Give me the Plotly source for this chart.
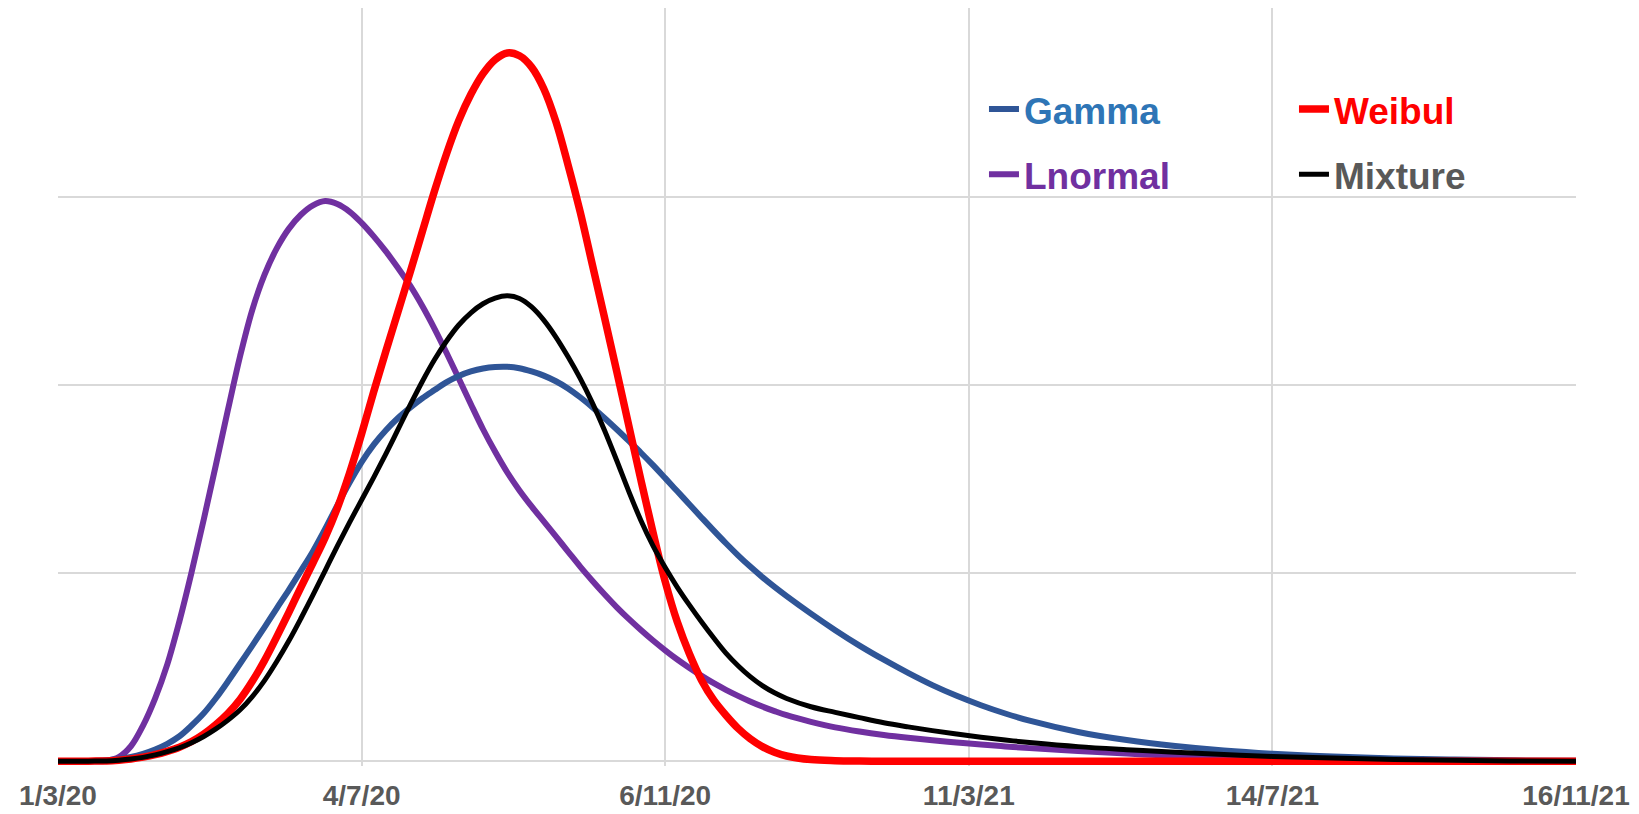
import plotly.graph_objects as go
import pandas as pd

start = pd.Timestamp("2020-03-01")
tick_dates = ["2020-03-01", "2020-07-04", "2020-11-06", "2021-03-11", "2021-07-14", "2021-11-16"]
tick_text = ["1/3/20", "4/7/20", "6/11/20", "11/3/21", "14/7/21", "16/11/21"]

# days after 1/3/20 (shared by all series)
days = list(range(0, 301, 5)) + list(range(310, 401, 10)) + [420, 440, 460, 480, 500, 525, 550, 575, 600, 625]

# density values (one grid step = 1)
gamma_vals = [0, 0, 0.0005, 0.002, 0.005, 0.012, 0.023, 0.04, 0.063, 0.093, 0.133, 0.19, 0.255, 0.335,
              0.425, 0.52, 0.615, 0.712, 0.812, 0.91, 1.012, 1.117, 1.235, 1.36, 1.48, 1.59, 1.683,
              1.76, 1.825, 1.88, 1.93, 1.973, 2.015, 2.048, 2.072, 2.088, 2.096, 2.097, 2.089, 2.072,
              2.05, 2.02, 1.982, 1.935, 1.882, 1.825, 1.765, 1.703, 1.64, 1.574, 1.505, 1.435, 1.365,
              1.295, 1.226, 1.159, 1.095, 1.035, 0.979, 0.927, 0.878,
              0.785, 0.697, 0.615, 0.54, 0.47, 0.405, 0.348, 0.298, 0.254, 0.216,
              0.156, 0.113, 0.081, 0.057, 0.04, 0.025, 0.015, 0.009, 0.005, 0.003]

weibul_vals = [0, 0, 0.0003, 0.001, 0.002, 0.006, 0.012, 0.022, 0.035, 0.053, 0.075, 0.105, 0.145,
               0.195, 0.255, 0.33, 0.425, 0.535, 0.66, 0.79, 0.925, 1.055, 1.19, 1.345, 1.53, 1.74,
               1.965, 2.18, 2.39, 2.60, 2.815, 3.03, 3.23, 3.405, 3.545, 3.655, 3.73, 3.765, 3.75,
               3.69, 3.575, 3.40, 3.17, 2.92, 2.64, 2.36, 2.075, 1.785, 1.495, 1.215, 0.955, 0.74,
               0.57, 0.43, 0.325, 0.245, 0.175, 0.12, 0.078, 0.048, 0.028,
               0.009, 0.003, 0.001, 0, 0, 0, 0, 0, 0, 0,
               0, 0, 0, 0, 0, 0, 0, 0, 0, 0]

lnormal_vals = [0, 0, 0, 0, 0.003, 0.022, 0.08, 0.19, 0.335, 0.515, 0.745, 1.005, 1.285, 1.575, 1.87,
                2.155, 2.40, 2.585, 2.725, 2.83, 2.905, 2.955, 2.978, 2.962, 2.922, 2.862, 2.79, 2.71,
                2.622, 2.528, 2.42, 2.30, 2.17, 2.035, 1.898, 1.765, 1.645, 1.535, 1.44, 1.355, 1.275,
                1.195, 1.115, 1.035, 0.96, 0.888, 0.82, 0.757, 0.698, 0.642, 0.59, 0.541, 0.496, 0.454,
                0.415, 0.38, 0.348, 0.318, 0.291, 0.267, 0.245,
                0.21, 0.18, 0.158, 0.14, 0.125, 0.112, 0.1, 0.089, 0.079, 0.07,
                0.055, 0.041, 0.029, 0.021, 0.014, 0.009, 0.005, 0.003, 0.001, 0]

mixture_vals = [0, 0, 0.0003, 0.001, 0.002, 0.006, 0.012, 0.021, 0.034, 0.051, 0.072, 0.099, 0.132,
                0.172, 0.219, 0.274, 0.344, 0.429, 0.529, 0.639, 0.759, 0.884, 1.014, 1.144, 1.269,
                1.389, 1.509, 1.634, 1.764, 1.894, 2.019, 2.134, 2.234, 2.319, 2.384, 2.432, 2.462,
                2.474, 2.46, 2.415, 2.345, 2.255, 2.15, 2.035, 1.905, 1.76, 1.60, 1.435, 1.28, 1.145,
                1.03, 0.925, 0.83, 0.74, 0.655, 0.575, 0.508, 0.45, 0.402, 0.364, 0.334,
                0.29, 0.26, 0.232, 0.205, 0.183, 0.163, 0.145, 0.128, 0.113, 0.10,
                0.078, 0.062, 0.048, 0.036, 0.026, 0.017, 0.01, 0.005, 0.002, 0]

x_dates = start + pd.to_timedelta(days, unit="D")

fig = go.Figure()
fig.add_trace(go.Scatter(x=x_dates, y=lnormal_vals, mode="lines",
                         name="<span style='color:#7030A0'>Lnormal</span>",
                         line=dict(color="#7030A0", width=6, shape="spline", smoothing=1.0),
                         legend="legend2"))
fig.add_trace(go.Scatter(x=x_dates, y=gamma_vals, mode="lines",
                         name="<span style='color:#2E75B6'>Gamma</span>",
                         line=dict(color="#2F5597", width=6, shape="spline", smoothing=1.0),
                         legend="legend"))
fig.add_trace(go.Scatter(x=x_dates, y=weibul_vals, mode="lines",
                         name="<span style='color:#FF0000'>Weibul</span>",
                         line=dict(color="#FF0000", width=7.5, shape="spline", smoothing=1.0),
                         legend="legend"))
fig.add_trace(go.Scatter(x=x_dates, y=mixture_vals, mode="lines",
                         name="<span style='color:#595959'>Mixture</span>",
                         line=dict(color="#000000", width=5, shape="spline", smoothing=1.0),
                         legend="legend2"))

legend_font = dict(family="Liberation Sans, Arial, sans-serif", size=37, weight="bold")
fig.update_layout(
    width=1631, height=806,
    margin=dict(l=50, r=63, t=0, b=48),
    plot_bgcolor="white", paper_bgcolor="white",
    showlegend=True,
    legend=dict(orientation="h", x=0.610, xanchor="left", y=0.866, yanchor="middle",
                entrywidth=265, entrywidthmode="pixels", font=legend_font,
                bgcolor="rgba(0,0,0,0)", traceorder="normal"),
    legend2=dict(orientation="h", x=0.610, xanchor="left", y=0.780, yanchor="middle",
                 entrywidth=265, entrywidthmode="pixels", font=legend_font,
                 bgcolor="rgba(0,0,0,0)", traceorder="normal"),
    xaxis=dict(type="date", range=[tick_dates[0], tick_dates[-1]],
               tickvals=tick_dates, ticktext=tick_text,
               showgrid=True, gridcolor="#D9D9D9", gridwidth=2,
               showline=False, zeroline=False, ticks="", ticklabelstandoff=10,
               tickfont=dict(family="Liberation Sans, Arial, sans-serif", size=28,
                             color="#595959", weight="bold")),
    yaxis=dict(range=[-0.025, 4.004], tickvals=[0, 1, 2, 3, 4], showticklabels=False,
               showgrid=True, gridcolor="#D9D9D9", gridwidth=2,
               showline=False, zeroline=False, ticks=""),
)

fig.write_html("out.html")
